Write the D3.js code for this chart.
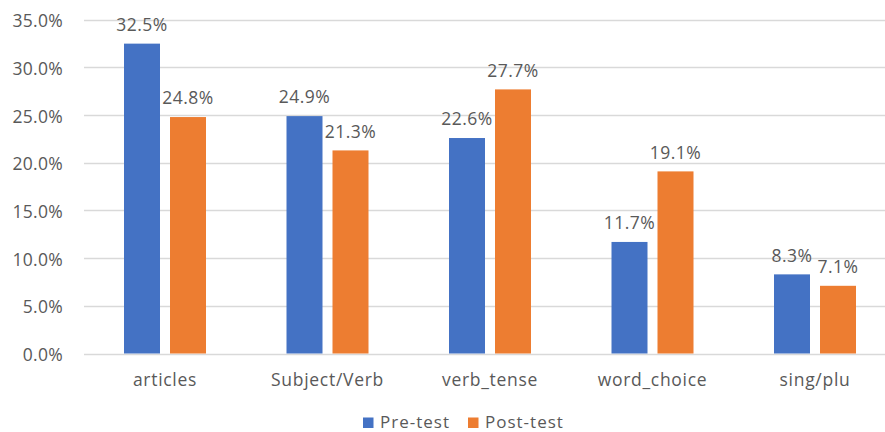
<!DOCTYPE html>
<html><head><meta charset="utf-8">
<script src="https://cdn.jsdelivr.net/npm/d3@7"></script>
<style>body{margin:0;background:#fff;}svg{display:block;font-family:"Open Sans",sans-serif;}</style>
</head><body>
<svg id="c" width="885" height="432"></svg>
<script>
const categories = ["articles","Subject/Verb","verb_tense","word_choice","sing/plu"];
const series = ["Pre-test","Post-test"];
const preTest = [32.5,24.9,22.6,11.7,8.3];
const postTest = [24.8,21.3,27.7,19.1,7.1];
const yTicks = [0,5,10,15,20,25,30,35];
const colors = ["#4472C4","#ED7D31"];

const svg = d3.select("#c");
const y = d3.scaleLinear().domain([0,35]).range([353.5,19.8]);
const x0 = d3.scaleBand().domain(categories).range([83.75,896.25]).padding(0);
const x1 = d3.scaleBand().domain(series).range([-41,41]).paddingInner(2-82/46);
const values = [preTest, postTest];
const text = "#595959";

// gridlines
svg.append("g").selectAll("line").data(yTicks).join("line")
  .attr("x1",84).attr("x2",885)
  .attr("y1",d=>Math.round(y(d))+0.5).attr("y2",d=>Math.round(y(d))+0.5)
  .attr("stroke","#d9d9d9").attr("stroke-width",1.3);

// y tick labels
svg.append("g").selectAll("text").data(yTicks).join("text")
  .attr("x",63).attr("y",d=>y(d)+7.5)
  .attr("text-anchor","end").attr("fill",text).attr("font-size",17.5).attr("letter-spacing",0.3)
  .text(d=>d.toFixed(1)+"%");

// bars
series.forEach((s,si)=>{
  const g = svg.append("g");
  g.selectAll("rect").data(categories).join("rect")
    .attr("x",(c)=>x0(c)+x0.bandwidth()/2+x1(s))
    .attr("width",x1.bandwidth())
    .attr("y",(c,i)=>y(values[si][i]))
    .attr("height",(c,i)=>y(0)-y(values[si][i]))
    .attr("fill",colors[si]);
  g.selectAll("text").data(categories).join("text")
    .attr("x",(c)=>x0(c)+x0.bandwidth()/2+x1(s)+x1.bandwidth()/2)
    .attr("y",(c,i)=>y(values[si][i])-12.6)
    .attr("text-anchor","middle").attr("fill",text).attr("font-size",17.5).attr("letter-spacing",0.5)
    .text((c,i)=>values[si][i].toFixed(1)+"%");
});

// category labels
svg.append("g").selectAll("text").data(categories).join("text")
  .attr("x",c=>x0(c)+x0.bandwidth()/2).attr("y",386)
  .attr("text-anchor","middle").attr("fill",text).attr("font-size",17.5).attr("letter-spacing",0.7)
  .text(c=>c);

// legend
const legX = [363,468];
series.forEach((s,si)=>{
  svg.append("rect").attr("x",legX[si]).attr("y",417.5).attr("width",10.5).attr("height",10.5).attr("fill",colors[si]);
  svg.append("text").attr("x",legX[si]+17).attr("y",428)
    .attr("fill",text).attr("font-size",17).attr("letter-spacing",1)
    .text(s);
});
</script>
</body></html>
